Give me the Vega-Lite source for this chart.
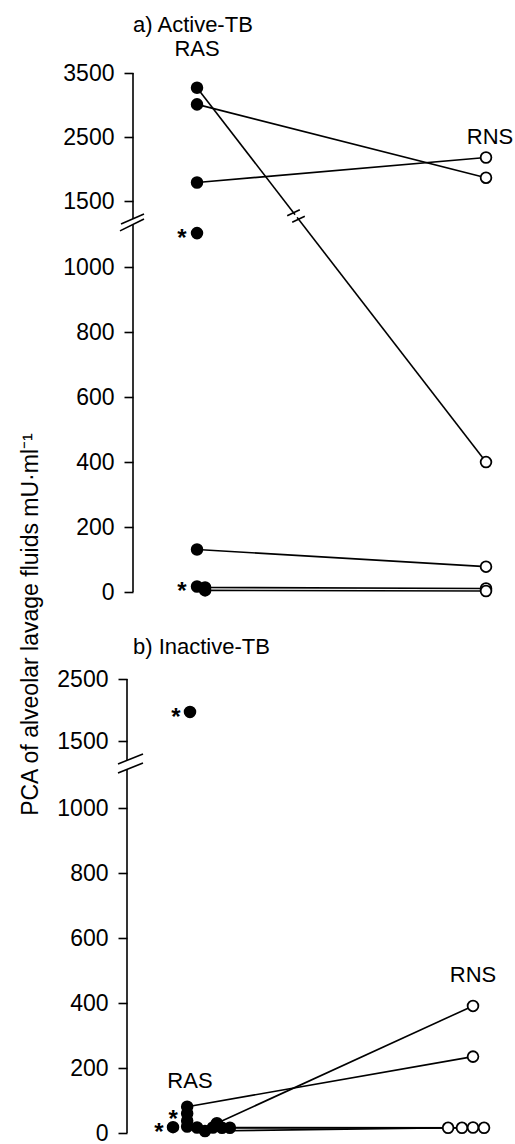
{
  "$schema": "https://vega.github.io/schema/vega-lite/v6.json",
  "background": "white",
  "padding": {"left": 19, "top": 14, "right": 0, "bottom": 0},
  "title": {
    "text": "PCA of alveolar lavage fluids  mU·ml⁻¹",
    "orient": "left",
    "anchor": "middle",
    "font": "Liberation Sans",
    "fontSize": 23,
    "fontWeight": "normal",
    "color": "black",
    "offset": 14,
    "dx": -45
  },
  "datasets": {
    "a": [
      {"pair": "a1", "side": "RAS", "x": 1, "v": 3270},
      {"pair": "a2", "side": "RAS", "x": 1, "v": 3010},
      {"pair": "a3", "side": "RAS", "x": 1, "v": 1790},
      {"side": "RAS", "x": 1, "v": 1105, "star": true},
      {"pair": "a5", "side": "RAS", "x": 1, "v": 131},
      {"side": "RAS", "x": 1, "v": 17, "star": true},
      {"pair": "a6", "side": "RAS", "x": 1.028, "v": 14},
      {"pair": "a7", "side": "RAS", "x": 1.028, "v": 5},
      {"pair": "a1", "side": "RNS", "x": 2, "v": 400},
      {"pair": "a2", "side": "RNS", "x": 2, "v": 1865},
      {"pair": "a3", "side": "RNS", "x": 2, "v": 2180},
      {"pair": "a5", "side": "RNS", "x": 2, "v": 78},
      {"pair": "a6", "side": "RNS", "x": 2, "v": 11},
      {"pair": "a7", "side": "RNS", "x": 2, "v": 3}
    ],
    "b": [
      {"side": "RAS", "x": 1, "v": 1970, "star": true},
      {"pair": "b1", "side": "RAS", "x": 0.99, "v": 81},
      {"side": "RAS", "x": 0.99, "v": 60, "star": true},
      {"side": "RAS", "x": 0.99, "v": 38},
      {"side": "RAS", "x": 0.99, "v": 20},
      {"side": "RAS", "x": 0.94, "v": 18, "star": true},
      {"pair": "b6", "side": "RAS", "x": 1.025, "v": 17},
      {"pair": "b5", "side": "RAS", "x": 1.053, "v": 6},
      {"side": "RAS", "x": 1.081, "v": 17},
      {"pair": "b2", "side": "RAS", "x": 1.095, "v": 30},
      {"pair": "b4", "side": "RAS", "x": 1.113, "v": 16},
      {"pair": "b3", "side": "RAS", "x": 1.141, "v": 16},
      {"pair": "b1", "side": "RNS", "x": 2, "v": 235},
      {"pair": "b2", "side": "RNS", "x": 2, "v": 391},
      {"pair": "b3", "side": "RNS", "x": 1.912, "v": 16},
      {"pair": "b4", "side": "RNS", "x": 1.961, "v": 16},
      {"pair": "b5", "side": "RNS", "x": 2, "v": 17},
      {"pair": "b6", "side": "RNS", "x": 2.039, "v": 16}
    ]
  },
  "spacing": 31,
  "vconcat": [
    {
      "width": 382,
      "height": 519,
      "title": {"text": "a)  Active-TB", "anchor": "start", "frame": "group", "offset": 1},
      "encoding": {
        "x": {"field": "x", "type": "quantitative", "scale": {"domain": [0.7785, 2.1003], "nice": false, "zero": false}, "axis": null},
        "y": {
          "field": "v", "type": "quantitative",
          "scale": {"domain": [0, 1130, 1220, 3500], "range": [519, 152, 146, 0], "nice": false, "zero": false},
          "axis": {"values": [0, 200, 400, 600, 800, 1000, 1500, 2500, 3500]}
        }
      },
      "layer": [
        {
          "data": {"values": [{"x": 0.7785, "v": 0, "v2": 1130}, {"x": 0.7785, "v": 1220, "v2": 3500}]},
          "mark": {"type": "rule", "color": "black", "strokeWidth": 1.6},
          "encoding": {"y2": {"field": "v2"}}
        },
        {
          "data": {"values": [{"x": 0.7335, "v": 1112, "x2": 0.8166, "v2": 1220}, {"x": 0.737, "v": 1145, "x2": 0.8166, "v2": 1298}]},
          "mark": {"type": "rule", "color": "black", "strokeWidth": 1.6},
          "encoding": {"x2": {"field": "x2"}, "y2": {"field": "v2"}}
        },
        {
          "data": {"name": "a"},
          "transform": [{"filter": "isValid(datum.pair)"}],
          "mark": {"type": "line", "color": "black", "strokeWidth": 1.6},
          "encoding": {"detail": {"field": "pair"}}
        },
        {
          "data": {"values": [{"x": 1.3391, "v": 1287, "x2": 1.346, "v2": 1246}]},
          "mark": {"type": "rule", "color": "white", "strokeWidth": 4},
          "encoding": {"x2": {"field": "x2"}, "y2": {"field": "v2"}}
        },
        {
          "data": {"values": [{"x": 1.3121, "v": 1271, "x2": 1.3557, "v2": 1365}, {"x": 1.3294, "v": 1172, "x2": 1.373, "v2": 1264}]},
          "mark": {"type": "rule", "color": "black", "strokeWidth": 1.6},
          "encoding": {"x2": {"field": "x2"}, "y2": {"field": "v2"}}
        },
        {
          "data": {"name": "a"},
          "mark": {"type": "circle", "size": 115, "opacity": 1, "stroke": "black", "strokeWidth": 1.8},
          "encoding": {"fill": {"field": "side", "type": "nominal", "scale": {"domain": ["RAS", "RNS"], "range": ["black", "white"]}, "legend": null}}
        },
        {
          "data": {"name": "a"},
          "transform": [{"filter": "datum.star === true"}],
          "mark": {"type": "text", "text": "*", "dx": -15, "dy": 6, "fontSize": 24, "fontWeight": "bold"}
        },
        {
          "data": {"values": [{"x": 1, "v": 3500}]},
          "mark": {"type": "text", "text": "RAS", "dy": -24}
        },
        {
          "data": {"values": [{"x": 2, "v": 2500}]},
          "mark": {"type": "text", "text": "RNS", "dx": 4}
        }
      ]
    },
    {
      "width": 382,
      "height": 454,
      "title": {"text": "b)  Inactive-TB", "anchor": "start", "frame": "group", "offset": 9},
      "encoding": {
        "x": {"field": "x", "type": "quantitative", "scale": {"domain": [0.7986, 2.1484], "nice": false, "zero": false}, "axis": null},
        "y": {
          "field": "v", "type": "quantitative",
          "scale": {"domain": [0, 1120, 1195, 2500], "range": [454, 90, 81, 0], "nice": false, "zero": false},
          "axis": {"values": [0, 200, 400, 600, 800, 1000, 1500, 2500], "offset": 6}
        }
      },
      "layer": [
        {
          "data": {"values": [{"x": 0.7774, "v": 0, "v2": 1120}, {"x": 0.7774, "v": 1195, "v2": 2500}]},
          "mark": {"type": "rule", "color": "black", "strokeWidth": 1.6},
          "encoding": {"y2": {"field": "v2"}}
        },
        {
          "data": {"values": [{"x": 0.7456, "v": 1162, "x2": 0.8339, "v2": 1292}, {"x": 0.7456, "v": 1108, "x2": 0.8339, "v2": 1170}]},
          "mark": {"type": "rule", "color": "black", "strokeWidth": 1.6},
          "encoding": {"x2": {"field": "x2"}, "y2": {"field": "v2"}}
        },
        {
          "data": {"name": "b"},
          "transform": [{"filter": "isValid(datum.pair)"}],
          "mark": {"type": "line", "color": "black", "strokeWidth": 1.6},
          "encoding": {"detail": {"field": "pair"}}
        },
        {
          "data": {"name": "b"},
          "mark": {"type": "circle", "size": 115, "opacity": 1, "stroke": "black", "strokeWidth": 1.8},
          "encoding": {"fill": {"field": "side", "type": "nominal", "scale": {"domain": ["RAS", "RNS"], "range": ["black", "white"]}, "legend": null}}
        },
        {
          "data": {"name": "b"},
          "transform": [{"filter": "datum.star === true"}],
          "mark": {"type": "text", "text": "*", "dx": -14, "dy": 6, "fontSize": 24, "fontWeight": "bold"}
        },
        {
          "data": {"values": [{"x": 1, "v": 160}]},
          "mark": {"type": "text", "text": "RAS"}
        },
        {
          "data": {"values": [{"x": 2, "v": 486}]},
          "mark": {"type": "text", "text": "RNS"}
        }
      ]
    }
  ],
  "config": {
    "view": {"stroke": null},
    "font": "Liberation Sans",
    "title": {"font": "Liberation Sans", "fontSize": 22, "fontWeight": "normal", "color": "black"},
    "text": {"font": "Liberation Sans", "fontSize": 22, "color": "black", "baseline": "middle"},
    "axis": {
      "domain": false,
      "grid": false,
      "title": null,
      "format": "d",
      "ticks": true,
      "tickSize": 9,
      "tickWidth": 1.6,
      "tickColor": "black",
      "labelFont": "Liberation Sans",
      "labelFontSize": 23,
      "labelColor": "black",
      "labelPadding": 10,
      "labelOverlap": false,
      "labelFlush": false,
      "labelBound": false
    }
  }
}
